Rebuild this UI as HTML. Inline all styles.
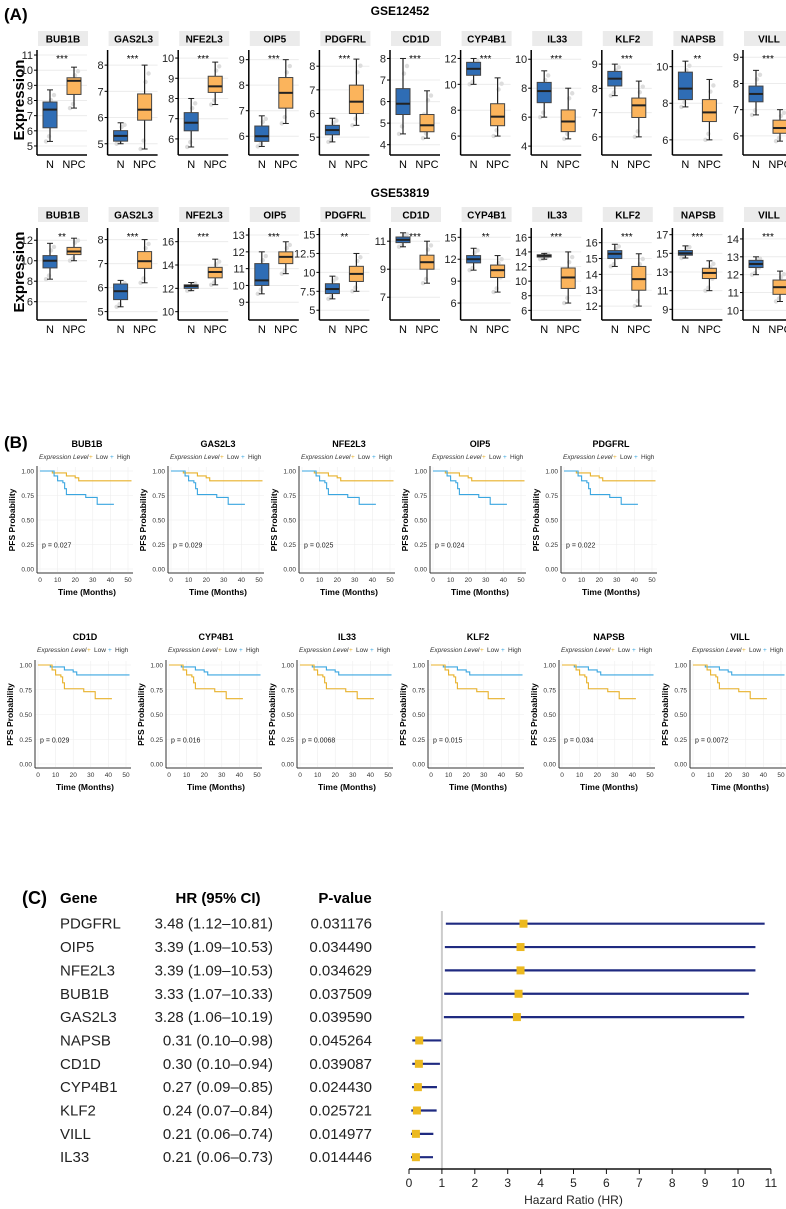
<!DOCTYPE html>
<html><head><meta charset="utf-8">
<style>
html,body{margin:0;padding:0;background:#fff;}
svg{display:block;font-family:"Liberation Sans",Arial,sans-serif;}
</style></head>
<body>
<svg id="s" width="786" height="1209" viewBox="0 0 786 1209" xmlns="http://www.w3.org/2000/svg">
<text x="4" y="20" font-size="17" font-weight="bold">(A)</text>
<text x="400" y="15" font-size="12" font-weight="bold" text-anchor="middle">GSE12452</text>
<text x="400" y="197" font-size="12" font-weight="bold" text-anchor="middle">GSE53819</text>
<text transform="translate(24,100) rotate(-90)" font-size="15" font-weight="bold" text-anchor="middle">Expression</text>
<text transform="translate(24,272) rotate(-90)" font-size="15" font-weight="bold" text-anchor="middle">Expression</text>
<text x="4" y="448" font-size="17" font-weight="bold">(B)</text>
<text x="22" y="904" font-size="18" font-weight="bold">(C)</text>
</svg>
<script>
(function(){
const S=document.getElementById('s');const NS='http://www.w3.org/2000/svg';
function el(t,a,txt){const e=document.createElementNS(NS,t);for(const k in a)e.setAttribute(k,a[k]);if(txt!==undefined)e.textContent=txt;S.appendChild(e);return e;}
const genes=['BUB1B','GAS2L3','NFE2L3','OIP5','PDGFRL','CD1D','CYP4B1','IL33','KLF2','NAPSB','VILL'];
const sig1=['***','***','***','***','***','***','***','***','***','**','***'];
const sig2=['**','***','***','***','**','***','**','***','***','***','***'];
const topData=[[4.8,11.2,[5,6,7,8,9,10,11],[5.3,6.2,7.4,7.9,8.7],[7.5,8.4,9.3,9.5,10.2]],
[4.8,8.5,[5,6,7,8],[5,5.1,5.3,5.5,5.8],[4.8,5.9,6.3,6.9,8]],
[5.5,10.3,[6,7,8,9,10],[5.6,6.4,6.8,7.3,8],[7.7,8.3,8.6,9.1,9.8]],
[5.5,9.3,[6,7,8,9],[5.6,5.8,6,6.4,6.8],[6.5,7.1,7.7,8.3,9]],
[4.5,8.6,[5,6,7,8],[4.8,5.1,5.3,5.5,5.8],[5.5,6,6.5,7.2,8.3]],
[3.8,8.3,[4,5,6,7,8],[4.5,5.4,5.9,6.6,8],[4.3,4.6,4.9,5.4,6.5]],
[5,12.5,[6,8,10,12],[10,10.7,11.2,11.7,12],[6,6.8,7.5,8.5,10.5]],
[3.8,10.5,[4,6,8,10],[6,7,7.8,8.4,9.2],[4.5,5,5.7,6.5,8]],
[5.5,9.5,[6,7,8,9],[7.7,8.1,8.4,8.7,9],[6,6.8,7.3,7.6,8.3]],
[5.5,10.8,[6,8,10],[7.8,8.2,8.8,9.7,10.3],[6,7,7.5,8.2,9.3]],
[5.5,9.2,[6,7,8,9],[6.8,7.3,7.6,7.9,8.5],[5.8,6.1,6.3,6.6,7]]];
const botData=[[4.8,13,[6,8,10,12],[8.2,9.3,10,10.5,11.7],[10,10.6,10.9,11.3,12.2]],
[4.9,8.4,[5,6,7,8],[5.2,5.5,5.85,6.15,6.3],[6.2,6.8,7.1,7.5,8]],
[9.8,17,[10,12,14,16],[11.8,12,12.2,12.3,12.5],[12.3,12.9,13.4,13.8,14.5]],
[8.3,13.3,[9,10,11,12,13],[9.5,10,10.3,11.3,12],[10.7,11.3,11.7,12,12.6]],
[4.5,15.6,[5,7.5,10,12.5,15],[6.5,7.2,7.8,8.5,9.5],[7.5,8.8,9.8,10.8,12.5]],
[5.8,11.8,[7,9,11],[10.6,10.9,11.1,11.3,11.6],[8,9,9.5,10,11]],
[4.5,16,[6,9,12,15],[10.5,11.5,12,12.5,13.5],[7.5,9.5,10.5,11.2,12.5]],
[5.5,17,[6,8,10,12,14,16],[13,13.3,13.5,13.6,13.8],[7,9,10.5,11.8,14]],
[11.5,16.8,[12,13,14,15,16],[14.5,15,15.3,15.5,15.9],[12,13,13.7,14.5,15.3]],
[8.5,17.5,[9,11,13,15,17],[14.5,14.8,15,15.3,15.8],[11,12.3,12.9,13.4,14.2]],
[9.8,14.5,[10,11,12,13,14],[12,12.4,12.6,12.8,13],[10.5,10.9,11.3,11.7,12.2]]];
function boxRow(data,sig,sy,py0,py1,ly){
 data.forEach((d,i)=>{
  const ax=37+i*70.6, w=50;
  el('rect',{x:ax+1,y:sy,width:w,height:15,fill:'#ebebeb'});
  el('text',{x:ax+26,y:sy+11.5,'font-size':10,'font-weight':'bold','text-anchor':'middle'},genes[i]);
  const lo=d[0],hi=d[1],ticks=d[2],N=d[3],P=d[4]; const Y=v=>py1-(v-lo)/(hi-lo)*(py1-py0);
  ticks.forEach(t=>{const y=Y(t);el('line',{x1:ax,x2:ax+w,y1:y,y2:y,stroke:'#ececec','stroke-width':1});
   el('line',{x1:ax-3,x2:ax,y1:y,y2:y,stroke:'#000'});
   el('text',{x:ax-4,y:y+4,'font-size':11,'text-anchor':'end',fill:'#222'},String(t));});
  el('text',{x:ax+25,y:py0+10,'font-size':10,'text-anchor':'middle'},sig[i]);
  [[N,ax+13,'#2f6db5'],[P,ax+37,'#fbb45c']].forEach(q=>{const b=q[0],cx=q[1],c=q[2];
   for(let k=0;k<6;k++){const v=b[0]+(b[4]-b[0])*((k*37%11)/10);el('circle',{cx:cx+((k*7)%9)-4,cy:Y(v),r:2.2,fill:'#ddd'});}
   el('line',{x1:cx,x2:cx,y1:Y(b[0]),y2:Y(b[4]),stroke:'#222','stroke-width':1.2});
   el('line',{x1:cx-3,x2:cx+3,y1:Y(b[0]),y2:Y(b[0]),stroke:'#222'});
   el('line',{x1:cx-3,x2:cx+3,y1:Y(b[4]),y2:Y(b[4]),stroke:'#222'});
   el('rect',{x:cx-7,y:Y(b[3]),width:14,height:Y(b[1])-Y(b[3]),fill:c,stroke:'#444','stroke-width':1});
   el('line',{x1:cx-7,x2:cx+7,y1:Y(b[2]),y2:Y(b[2]),stroke:'#222','stroke-width':2});
  });
  el('line',{x1:ax,x2:ax,y1:py0-2,y2:py1+6,stroke:'#000','stroke-width':1.5});
  el('line',{x1:ax,x2:ax+w,y1:py1+6,y2:py1+6,stroke:'#000','stroke-width':1.5});
  el('text',{x:ax+13,y:ly,'font-size':11,'text-anchor':'middle'},'N');
  el('text',{x:ax+37,y:ly,'font-size':11,'text-anchor':'middle'},'NPC');
 });
}
boxRow(topData,sig1,31,52,149,168);
boxRow(botData,sig2,207,230,314,333);
const pv1=['p = 0.027','p = 0.029','p = 0.025','p = 0.024','p = 0.022'];
const pv2=['p = 0.029','p = 0.016','p = 0.0068','p = 0.015','p = 0.034','p = 0.0072'];
const ORG='#e8b12a',BLU='#3aa6e0';
const curveBad=[[0,1],[6,1],[8,.95],[10,.9],[13,.88],[14,.82],[15,.76],[22,.76],[26,.73],[32,.73],[32.5,.66],[42,.66]];
const curveGood=[[0,1],[5,1],[7,.98],[13,.98],[15,.95],[20,.93],[22,.9],[52,.9]];
function km(ax,t,pv,i,row2){
 const y0=row2?665:471,y1=row2?764:569,x0=ax+3,x1=ax+91;
 const X=m=>x0+m/50*(x1-x0),Y=p=>y1-p*(y1-y0);
 const title=row2?['CD1D','CYP4B1','IL33','KLF2','NAPSB','VILL'][i]:genes[i];
 el('text',{x:ax+50,y:t+2,'font-size':9,'font-weight':'bold','text-anchor':'middle'},title);
 el('text',{x:ax+2,y:t+14,'font-size':6.5,'font-style':'italic',fill:'#333'},'Expression Level');
 el('text',{x:ax+52,y:t+14,'font-size':6.5,fill:ORG},'+');el('text',{x:ax+59,y:t+14,'font-size':6.5,fill:'#333'},'Low');
 el('text',{x:ax+73,y:t+14,'font-size':6.5,fill:BLU},'+');el('text',{x:ax+80,y:t+14,'font-size':6.5,fill:'#333'},'High');
 [0,.25,.5,.75,1].forEach(p=>{el('line',{x1:ax,x2:ax+96,y1:Y(p),y2:Y(p),stroke:'#eee','stroke-width':.6});
  el('text',{x:ax-3,y:Y(p)+2.5,'font-size':6.5,'text-anchor':'end',fill:'#333'},p.toFixed(2));});
 [0,10,20,30,40,50].forEach(m=>{el('line',{x1:X(m),x2:X(m),y1:y0-4,y2:y1+3,stroke:'#eee','stroke-width':.6});
  el('text',{x:X(m),y:y1+13,'font-size':6.5,'text-anchor':'middle',fill:'#333'},String(m));});
 el('text',{transform:'translate('+(ax-22)+','+((y0+y1)/2)+') rotate(-90)','font-size':8.5,'font-weight':'bold','text-anchor':'middle'},'PFS Probability');
 el('text',{x:ax+50,y:y1+26,'font-size':8.5,'font-weight':'bold','text-anchor':'middle'},'Time (Months)');
 el('text',{x:ax+5,y:Y(.25)+3,'font-size':7,fill:'#222'},pv);
 const path=pts=>{let d='M'+X(pts[0][0])+','+Y(pts[0][1]);for(let k=1;k<pts.length;k++){d+='H'+X(pts[k][0])+'V'+Y(pts[k][1]);}return d;};
 const bad=row2?ORG:BLU,good=row2?BLU:ORG;
 el('path',{d:path(curveGood),fill:'none',stroke:good,'stroke-width':1.1});
 el('path',{d:path(curveBad),fill:'none',stroke:bad,'stroke-width':1.1});
 el('line',{x1:ax,x2:ax,y1:y0-5,y2:y1+4,stroke:'#333','stroke-width':1});
 el('line',{x1:ax,x2:ax+96,y1:y1+4,y2:y1+4,stroke:'#333','stroke-width':1});
}
for(let i=0;i<5;i++)km(37+i*131,445,pv1[i],i,false);
for(let i=0;i<6;i++)km(35+i*131,638,pv2[i],i,true);
const fr=[['PDGFRL','3.48 (1.12–10.81)','0.031176',3.48,1.12,10.81],['OIP5','3.39 (1.09–10.53)','0.034490',3.39,1.09,10.53],
['NFE2L3','3.39 (1.09–10.53)','0.034629',3.39,1.09,10.53],['BUB1B','3.33 (1.07–10.33)','0.037509',3.33,1.07,10.33],
['GAS2L3','3.28 (1.06–10.19)','0.039590',3.28,1.06,10.19],['NAPSB','0.31 (0.10–0.98)','0.045264',.31,.1,.98],
['CD1D','0.30 (0.10–0.94)','0.039087',.3,.1,.94],['CYP4B1','0.27 (0.09–0.85)','0.024430',.27,.09,.85],
['KLF2','0.24 (0.07–0.84)','0.025721',.24,.07,.84],['VILL','0.21 (0.06–0.74)','0.014977',.21,.06,.74],
['IL33','0.21 (0.06–0.73)','0.014446',.21,.06,.73]];
el('text',{x:60,y:903,'font-size':15,'font-weight':'bold'},'Gene');
el('text',{x:218,y:903,'font-size':15,'font-weight':'bold','text-anchor':'middle'},'HR (95% CI)');
el('text',{x:345,y:903,'font-size':15,'font-weight':'bold','text-anchor':'middle'},'P-value');
const FX=v=>409+v*32.9;
el('line',{x1:FX(1),x2:FX(1),y1:911,y2:1169,stroke:'#ccc','stroke-width':2});
fr.forEach((r,i)=>{const y=923.7+i*23.35;
 el('text',{x:60,y:y+5,'font-size':15,fill:'#222'},r[0]);
 el('text',{x:273,y:y+5,'font-size':15,fill:'#222','text-anchor':'end'},r[1]);
 el('text',{x:372,y:y+5,'font-size':15,fill:'#222','text-anchor':'end'},r[2]);
 el('line',{x1:FX(r[4]),x2:FX(r[5]),y1:y,y2:y,stroke:'#1f2a80','stroke-width':2.2});
 el('rect',{x:FX(r[3])-4,y:y-4,width:8,height:8,fill:'#ecb920'});
});
el('line',{x1:FX(0),x2:FX(11),y1:1169,y2:1169,stroke:'#111','stroke-width':1.5});
for(let v=0;v<=11;v++){el('line',{x1:FX(v),x2:FX(v),y1:1169,y2:1174,stroke:'#111'});
 el('text',{x:FX(v),y:1187,'font-size':12,'text-anchor':'middle',fill:'#222'},String(v));}
el('text',{x:FX(5),y:1204,'font-size':12,'text-anchor':'middle',fill:'#222'},'Hazard Ratio (HR)');
})();
</script>
</body></html>
